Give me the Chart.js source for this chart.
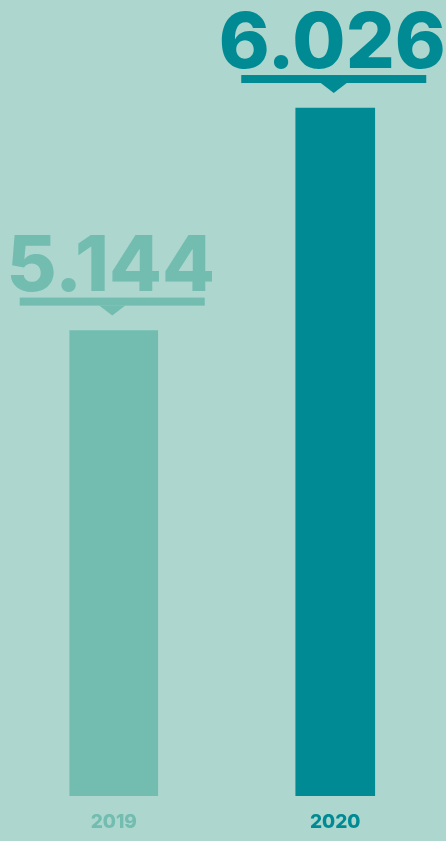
<!DOCTYPE html>
<html>
<head>
<meta charset="utf-8">
<script src="https://cdn.jsdelivr.net/npm/chart.js@4/dist/chart.umd.min.js"></script>
<style>
  html, body { margin: 0; padding: 0; background: #acd6ce; }
  #wrap { width: 446px; height: 841px; }
</style>
</head>
<body>
<div id="wrap"><canvas id="c" width="446" height="841"></canvas></div>
<script>
// ---- data ----
const categories = ['2019', '2020'];
const values = [5144, 6026];
const valueLabels = ['5.144', '6.026'];
const colors = ['#72bcb0', '#008b94'];

const BG = '#acd6ce';

const datasets = values.map((v, i) => ({
  label: categories[i],
  data: categories.map((_, j) => (j === i ? v : null)),
  backgroundColor: colors[i],
  barThickness: i === 0 ? 88 : 79,
  grouped: false,
  valueLabel: valueLabels[i]
}));

const labelPlugin = {
  id: 'valueLabels',
  afterDatasetsDraw(chart) {
    const ctx = chart.ctx;
    chart.data.datasets.forEach((ds, di) => {
      const meta = chart.getDatasetMeta(di);
      meta.data.forEach((bar, idx) => {
        if (ds.data[idx] == null) return;
        const x = bar.x, y = bar.y;
        ctx.save();
        ctx.fillStyle = ds.backgroundColor;
        const uw = 185, uh = 8;
        ctx.fillRect(x - uw / 2 - 1.5, y - 25 - uh, uw, uh);
        ctx.beginPath();
        ctx.moveTo(x - 13 - 1.5, y - 25);
        ctx.lineTo(x + 13 - 1.5, y - 25);
        ctx.lineTo(x - 1.5, y - 15);
        ctx.closePath();
        ctx.fill();
        ctx.font = '800 77px Inter, "Open Sans", sans-serif';
        ctx.textAlign = 'center';
        ctx.textBaseline = 'alphabetic';
        ctx.fillText(ds.valueLabel, x - 3, y - 40);
        ctx.restore();
      });
    });
  }
};

const bgPlugin = {
  id: 'bg',
  beforeDraw(chart) {
    const ctx = chart.ctx;
    ctx.save();
    ctx.fillStyle = BG;
    ctx.fillRect(0, 0, chart.width, chart.height);
    ctx.restore();
  }
};

new Chart(document.getElementById('c'), {
  type: 'bar',
  data: { labels: categories, datasets },
  options: {
    responsive: false,
    animation: false,
    layout: { padding: { top: 0, left: 3, right: -2, bottom: 0 } },
    plugins: { legend: { display: false }, tooltip: { enabled: false } },
    scales: {
      x: {
        grid: { display: false, drawTicks: false },
        border: { display: false },
        afterFit(scale) { scale.height = 45; },
        ticks: {
          padding: 15,
          color: colors,
          font: { family: 'Inter, "Open Sans", sans-serif', size: 19, weight: '800' }
        }
      },
      y: {
        display: false,
        min: 3300,
        max: 6454
      }
    }
  },
  plugins: [bgPlugin, labelPlugin]
});
</script>
</body>
</html>
